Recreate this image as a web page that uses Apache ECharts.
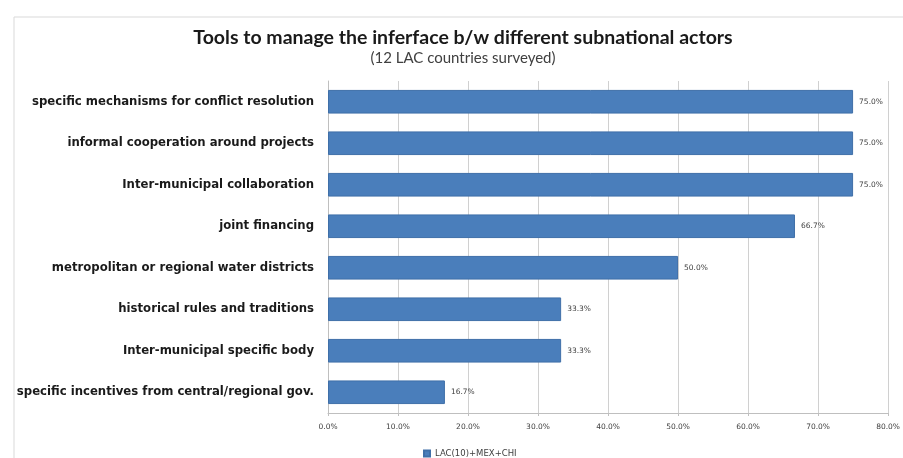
<!DOCTYPE html>
<html>
<head>
<meta charset="utf-8">
<script src="https://cdn.jsdelivr.net/npm/echarts@6/dist/echarts.min.js"></script>
<style>
  html, body { margin: 0; padding: 0; background: #fff; }
  #chart { width: 903px; height: 458px; }
</style>
</head>
<body>
<div id="chart"></div>
<script>
// Survey results: tools used to manage interfaces between subnational actors
const categories = [
  'specific mechanisms for conflict resolution',
  'informal cooperation around projects',
  'Inter-municipal collaboration',
  'joint financing',
  'metropolitan or regional water districts',
  'historical rules and traditions',
  'Inter-municipal specific body',
  'specific incentives from central/regional gov.'
];
const shares = [75.0, 75.0, 75.0, 66.7, 50.0, 33.3, 33.3, 16.7];
const seriesName = 'LAC(10)+MEX+CHI';
const titleText = 'Tools to manage the inferface b/w different subnational actors';
const subtitleText = '(12 LAC countries surveyed)';

const chart = echarts.init(document.getElementById('chart'), null, { renderer: 'canvas' });

chart.setOption({
  animation: false,
  backgroundColor: '#ffffff',
  graphic: [{
    type: 'rect',
    left: 11.5, top: 14.5,
    shape: { width: 900, height: 450 },
    style: { fill: 'none', stroke: '#d9d9d9', lineWidth: 1 },
    silent: true,
    z: -1
  }],
  title: {
    text: titleText,
    subtext: subtitleText,
    left: 458, top: 23, textAlign: 'center',
    itemGap: 3,
    textStyle: { fontFamily: 'Lato', fontWeight: 'bold', fontSize: 19.5, color: '#1a1a1a' },
    subtextStyle: { fontFamily: 'Lato', fontSize: 15, color: '#404040' }
  },
  legend: {
    data: [seriesName],
    left: 418, top: 444,
    itemWidth: 6, itemHeight: 6, itemGap: 2,
    icon: 'rect',
    textStyle: { fontFamily: 'DejaVu Sans', fontSize: 8.5, color: '#404040' }
  },
  grid: { left: 328, right: 13, top: 81, bottom: 45, containLabel: false },
  xAxis: {
    type: 'value',
    min: 0, max: 80, interval: 10,
    axisLine: { show: true, lineStyle: { color: '#bfbfbf' } },
    axisTick: { show: true, length: 3, lineStyle: { color: '#bfbfbf' } },
    splitLine: { show: true, lineStyle: { color: '#d0d0d0', width: 1 } },
    axisLabel: {
      fontFamily: 'DejaVu Sans', fontSize: 7.5, color: '#404040', margin: 10,
      formatter: v => v.toFixed(1) + '%'
    }
  },
  yAxis: {
    type: 'category',
    data: categories,
    inverse: true,
    axisLine: { show: true, lineStyle: { color: '#bfbfbf' } },
    axisTick: { show: false },
    axisLabel: {
      fontFamily: 'DejaVu Sans', fontWeight: 'bold', fontSize: 11.7, color: '#1a1a1a', margin: 14
    }
  },
  series: [{
    name: seriesName,
    type: 'bar',
    data: shares,
    barCategoryGap: '43%',
    itemStyle: { color: '#4a7ebb', borderColor: '#3f6fa8', borderWidth: 1 },
    label: {
      show: true, position: 'right', distance: 6,
      fontFamily: 'DejaVu Sans', fontSize: 7.5, color: '#404040',
      formatter: p => p.value.toFixed(1) + '%'
    }
  }]
});
</script>
</body>
</html>
